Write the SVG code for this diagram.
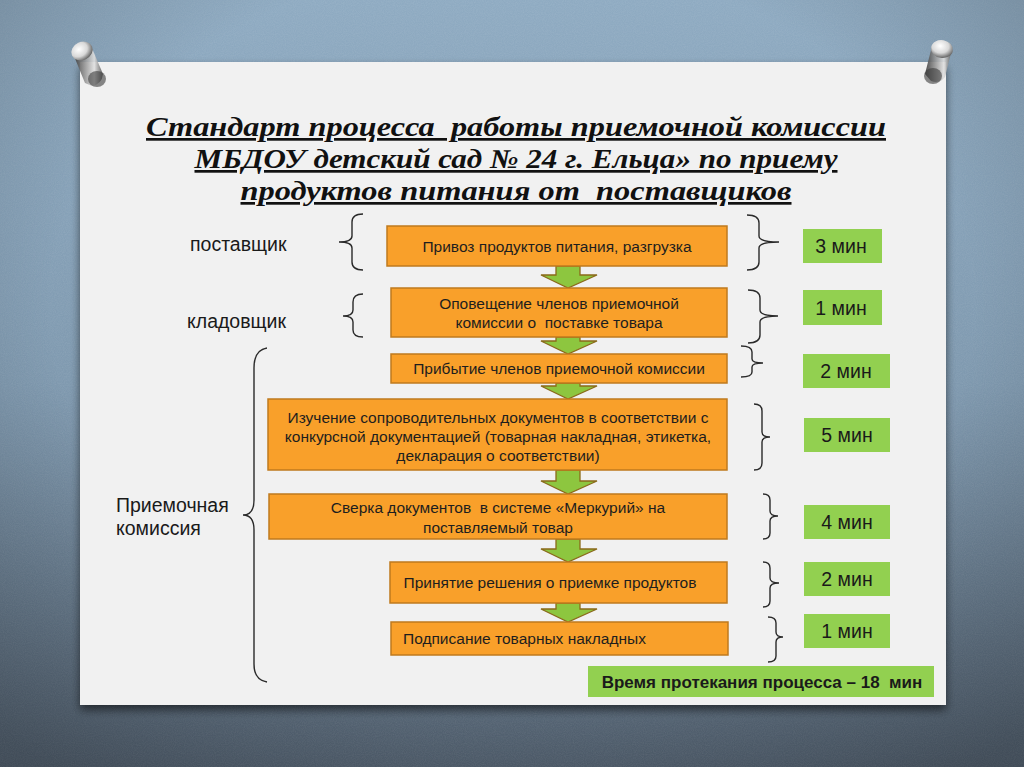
<svg xmlns="http://www.w3.org/2000/svg" width="1024" height="767" viewBox="0 0 1024 767">
<defs>
<linearGradient id="bg" x1="0" y1="0" x2="0" y2="1">
<stop offset="0" stop-color="#8fabc2"/>
<stop offset="0.5" stop-color="#7f99af"/>
<stop offset="1" stop-color="#566575"/>
</linearGradient>
<radialGradient id="vig" cx="0.5" cy="0.4" r="0.75">
<stop offset="0.6" stop-color="#000" stop-opacity="0"/>
<stop offset="1" stop-color="#000" stop-opacity="0.25"/>
</radialGradient>
<filter id="noise" x="0" y="0" width="100%" height="100%">
<feTurbulence type="fractalNoise" baseFrequency="0.9" numOctaves="2" seed="3"/>
<feColorMatrix type="matrix" values="0 0 0 0 1  0 0 0 0 1  0 0 0 0 1  0 0 0 0.35 -0.1"/>
</filter>
<filter id="shadow" x="-5%" y="-5%" width="110%" height="115%">
<feGaussianBlur in="SourceAlpha" stdDeviation="5"/>
<feOffset dx="0" dy="5"/>
<feComponentTransfer><feFuncA type="linear" slope="0.55"/></feComponentTransfer>
<feMerge><feMergeNode/><feMergeNode in="SourceGraphic"/></feMerge>
</filter>
<radialGradient id="pinhead" cx="0.4" cy="0.35" r="0.65">
<stop offset="0" stop-color="#ffffff"/>
<stop offset="0.6" stop-color="#d8d8d8"/>
<stop offset="1" stop-color="#6a6a6a"/>
</radialGradient>
<linearGradient id="pinbody" x1="0" y1="0" x2="1" y2="0">
<stop offset="0" stop-color="#3a3a3a"/>
<stop offset="0.4" stop-color="#9a9a9a"/>
<stop offset="0.7" stop-color="#e0e0e0"/>
<stop offset="1" stop-color="#555"/>
</linearGradient>
<style>
text{white-space:pre}
.box{fill:#f9a02a;stroke:#bf7a1e;stroke-width:1.5}
.tbox{fill:#92d050}
.arr{fill:#8dc63f;stroke:#8a6a1a;stroke-width:1.3;stroke-linejoin:miter}
.br{fill:none;stroke:#2a2a2a;stroke-width:1.4}
.t{font-family:"Liberation Sans",Arial,sans-serif;font-size:15.5px;fill:#1e1e1e;text-anchor:middle}
.lab{font-family:"Liberation Sans",Arial,sans-serif;font-size:19.5px;fill:#1a1a1a}
.tm{font-family:"Liberation Sans",Arial,sans-serif;font-size:19.5px;fill:#1a1a1a;text-anchor:middle}
.ttl{font-family:"Liberation Serif","Times New Roman",serif;font-size:27px;font-weight:bold;font-style:italic;fill:#111;text-anchor:middle;text-decoration:underline}
</style>
</defs>

<!-- background -->
<rect x="0" y="0" width="1024" height="767" fill="url(#bg)"/>
<rect x="0" y="0" width="1024" height="767" filter="url(#noise)" opacity="0.35"/>
<rect x="0" y="0" width="1024" height="767" fill="url(#vig)"/>

<!-- paper -->
<g id="paper">
<rect x="80" y="62" width="866" height="643" fill="#f1f1f1" filter="url(#shadow)"/>
</g>

<!-- pins -->
<g id="pin-left">
<path d="M74,56 L91,46 L103,74 Q102,84 92,86 L85,83 Z" fill="url(#pinbody)" opacity="0.9"/>
<ellipse cx="97" cy="79" rx="9" ry="8" fill="#3c3c3c" opacity="0.6"/>
<ellipse cx="82" cy="51" rx="11" ry="9" transform="rotate(-25 82 51)" fill="url(#pinhead)"/>
</g>
<g id="pin-right">
<path d="M932,46 L952,49 L945,77 Q940,84 931,81 L925,74 Z" fill="url(#pinbody)" opacity="0.9"/>
<ellipse cx="933" cy="76" rx="9" ry="8" fill="#3c3c3c" opacity="0.6"/>
<ellipse cx="942" cy="49" rx="11" ry="9" transform="rotate(10 942 49)" fill="url(#pinhead)"/>
</g>

<!-- title -->
<g id="title">
<text class="ttl" x="516" y="136" textLength="740" lengthAdjust="spacingAndGlyphs">Стандарт процесса  работы приемочной комиссии</text>
<text class="ttl" x="516" y="168" textLength="643" lengthAdjust="spacingAndGlyphs">МБДОУ детский сад № 24 г. Ельца» по приему</text>
<text class="ttl" x="516" y="200" textLength="551" lengthAdjust="spacingAndGlyphs">продуктов питания от  поставщиков</text>
</g>

<!-- connectors -->
<g id="connectors">
<path class="arr" d="M556,266 H580 V275 H597 L568,288 L541,275 H556 Z"/>
<path class="arr" d="M556,337 H580 V341 H597 L568,354 L541,341 H556 Z"/>
<path class="arr" d="M556,383 H580 V386 H597 L568,399 L541,386 H556 Z"/>
<path class="arr" d="M556,470 H580 V481 H597 L568,494 L541,481 H556 Z"/>
<path class="arr" d="M556,539 H580 V549 H597 L568,562 L541,549 H556 Z"/>
<path class="arr" d="M556,603 H580 V609 H597 L568,622 L541,609 H556 Z"/>
</g>

<!-- process boxes -->
<g id="step1">
<rect class="box" x="387" y="226" width="340" height="40"/>
<text class="t" x="557" y="252">Привоз продуктов питания, разгрузка</text>
</g>
<g id="step2">
<rect class="box" x="391" y="288" width="336" height="49"/>
<text class="t" x="559" y="309">Оповещение членов приемочной</text>
<text class="t" x="559" y="328">комиссии о  поставке товара</text>
</g>
<g id="step3">
<rect class="box" x="391" y="354" width="336" height="29"/>
<text class="t" x="559" y="374">Прибытие членов приемочной комиссии</text>
</g>
<g id="step4">
<rect class="box" x="268" y="399" width="459" height="71"/>
<text class="t" x="498" y="423">Изучение сопроводительных документов в соответствии с</text>
<text class="t" x="498" y="442">конкурсной документацией (товарная накладная, этикетка,</text>
<text class="t" x="498" y="461">декларация о соответствии)</text>
</g>
<g id="step5">
<rect class="box" x="269" y="494" width="458" height="45"/>
<text class="t" x="498" y="513">Сверка документов  в системе «Меркурий» на</text>
<text class="t" x="498" y="533">поставляемый товар</text>
</g>
<g id="step6">
<rect class="box" x="390" y="562" width="337" height="41"/>
<text class="t" x="550" y="588">Принятие решения о приемке продуктов</text>
</g>
<g id="step7">
<rect class="box" x="391" y="622" width="337" height="33"/>
<text class="t" x="403" y="644" style="text-anchor:start">Подписание товарных накладных</text>
</g>

<!-- left labels and braces -->
<g id="role-supplier">
<text class="lab" x="190" y="251">поставщик</text>
<path class="br" d="M363,214 Q352,214 352,222 L352,236 Q352,242 339,242 Q352,242 352,248 L352,262 Q352,270 363,270"/>
</g>
<g id="role-storekeeper">
<text class="lab" x="187" y="328">кладовщик</text>
<path class="br" d="M363,294 Q353,294 353,302 L353,310 Q353,316 343,316 Q353,316 353,322 L353,330 Q353,337 363,337"/>
</g>
<g id="role-commission">
<text class="lab" x="116" y="512">Приемочная</text>
<text class="lab" x="116" y="535">комиссия</text>
<path class="br" d="M267,348 Q254,350 254,368 L254,500 Q254,515 243,515 Q254,515 254,530 L254,664 Q254,680 267,682"/>
</g>

<!-- right braces and times -->
<g id="time1">
<path class="br" d="M747,215 Q759,215 759,223 L759,236 Q759,242 779,242 Q759,242 759,248 L759,262 Q759,270 747,270"/>
<rect class="tbox" x="803" y="229" width="79" height="34"/>
<text class="tm" x="841" y="253">3 мин</text>
</g>
<g id="time2">
<path class="br" d="M748,290 Q760,290 760,298 L760,310 Q760,316 778,316 Q760,316 760,322 L760,335 Q760,343 748,343"/>
<rect class="tbox" x="803" y="290" width="79" height="35"/>
<text class="tm" x="841" y="315">1 мин</text>
</g>
<g id="time3">
<path class="br" d="M741,346 Q752,346 752,352 L752,359 Q752,363 763,363 Q752,363 752,367 L752,372 Q752,377 741,377"/>
<rect class="tbox" x="803" y="354" width="87" height="34"/>
<text class="tm" x="846" y="378">2 мин</text>
</g>
<g id="time4">
<path class="br" d="M754,404 Q762,404 762,411 L762,432 Q762,437 770,437 Q762,437 762,442 L762,463 Q762,470 754,470"/>
<rect class="tbox" x="804" y="418" width="86" height="34"/>
<text class="tm" x="847" y="442">5 мин</text>
</g>
<g id="time5">
<path class="br" d="M763,494 Q770,494 770,500 L770,511 Q770,516 778,516 Q770,516 770,521 L770,533 Q770,539 763,539"/>
<rect class="tbox" x="804" y="505" width="86" height="34"/>
<text class="tm" x="847" y="529">4 мин</text>
</g>
<g id="time6">
<path class="br" d="M763,562 Q770,562 770,568 L770,578 Q770,583 779,583 Q770,583 770,588 L770,601 Q770,607 763,607"/>
<rect class="tbox" x="804" y="562" width="86" height="34"/>
<text class="tm" x="847" y="586">2 мин</text>
</g>
<g id="time7">
<path class="br" d="M768,617 Q776,617 776,623 L776,632 Q776,637 783,637 Q776,637 776,642 L776,656 Q776,662 768,662"/>
<rect class="tbox" x="804" y="614" width="86" height="34"/>
<text class="tm" x="847" y="638">1 мин</text>
</g>
<g id="total">
<rect class="tbox" x="588" y="666" width="346" height="31"/>
<text class="tm" x="762" y="688" style="font-size:17px;font-weight:bold">Время протекания процесса – 18  мин</text>
</g>
</svg>
